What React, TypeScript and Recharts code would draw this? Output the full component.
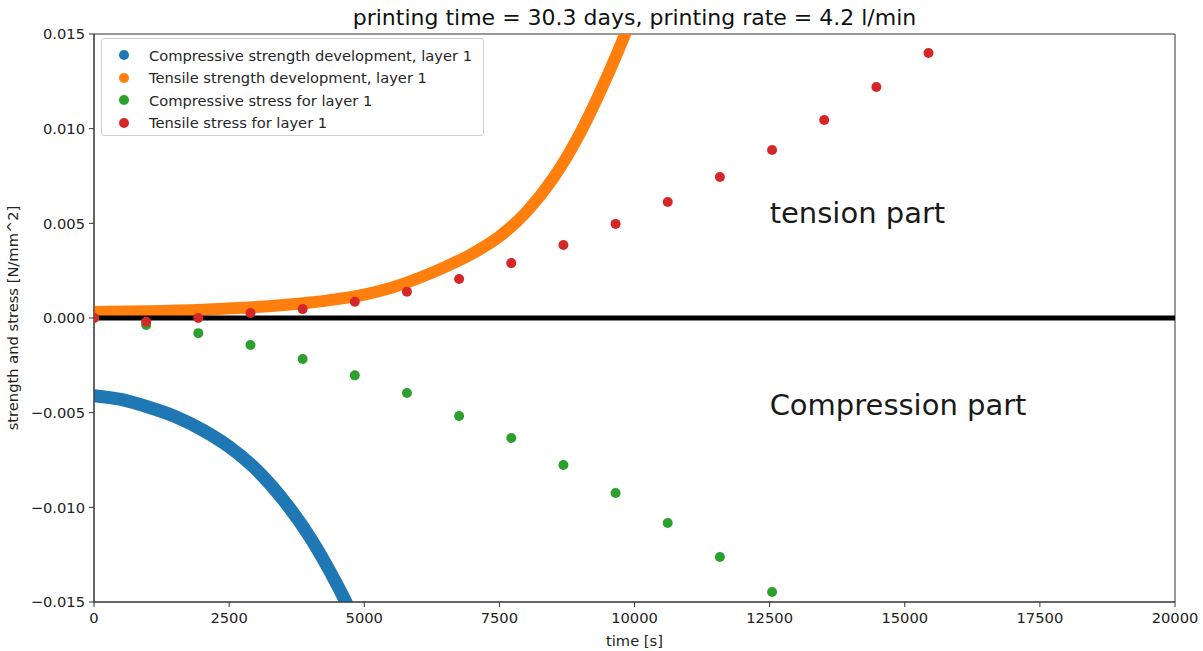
import React from "react";
import {
  ComposedChart, Line, Scatter, XAxis, YAxis, ReferenceLine, ReferenceDot, ReferenceArea,
} from "recharts";

const FONT = "'DejaVu Sans', sans-serif";

// strength development curves
const TENS_STRENGTH_T = [0, 1000, 2000, 3000, 4000, 4500, 5000, 5500, 6000, 6500, 7000, 7500, 8000, 8500, 9000, 9500, 10000];
const TENS_STRENGTH_V = [0.00032, 0.00036, 0.00044, 0.00058, 0.00082, 0.001, 0.00124, 0.0016, 0.0021, 0.0027, 0.0034, 0.0043, 0.0056, 0.0074, 0.0098, 0.0128, 0.0162];
const COMP_STRENGTH_T = [0, 500, 1000, 1500, 2000, 2500, 3000, 3500, 4000, 4500, 4800];
const COMP_STRENGTH_V = [-0.0041, -0.0043, -0.0047, -0.0052, -0.0059, -0.0068, -0.008, -0.0096, -0.0116, -0.0141, -0.0158];

// stress points per layer step
const STRESS_T = [0, 965, 1930, 2895, 3860, 4825, 5790, 6755, 7720, 8685, 9650, 10615, 11580, 12545, 13510, 14475, 15440];
const TENS_STRESS_V = [0, -0.0002, 0, 0.00026, 0.00047, 0.00086, 0.00139, 0.00206, 0.0029, 0.00386, 0.00497, 0.00613, 0.00745, 0.00887, 0.01046, 0.0122, 0.014];
const COMP_STRESS_V = [0, -0.00037, -0.0008, -0.00143, -0.00217, -0.00303, -0.00396, -0.00518, -0.00634, -0.00776, -0.00924, -0.01083, -0.01262, -0.01447];

const X_TICKS = [0, 2500, 5000, 7500, 10000, 12500, 15000, 17500, 20000];
const Y_TICKS = [-0.015, -0.01, -0.005, 0, 0.005, 0.01, 0.015];

const LEGEND_ITEMS = [
  { name: "Compressive strength development, layer 1", color: "#1f77b4" },
  { name: "Tensile strength development, layer 1", color: "#ff7f0e" },
  { name: "Compressive stress for layer 1", color: "#2ca02c" },
  { name: "Tensile stress for layer 1", color: "#d62728" },
];

const zip = (t: number[], v: number[]) => v.map((val, i) => ({ t: t[i], v: val }));

const tensStrength = zip(TENS_STRENGTH_T, TENS_STRENGTH_V);
const compStrength = zip(COMP_STRENGTH_T, COMP_STRENGTH_V);
const tensStress = zip(STRESS_T, TENS_STRESS_V);
const compStress = zip(STRESS_T, COMP_STRESS_V);

const fmtY = (v: number) => (v < 0 ? "\u2212" : "") + Math.abs(v).toFixed(3);

const dot = (color: string) => (p: any) => <circle cx={p.cx} cy={p.cy} r={5} fill={color} />;

const note = (text: string) => (p: any) => (
  <text x={p.cx} y={p.cy} fontSize={29} fontFamily={FONT} fill="#1a1a1a">{text}</text>
);

// legend box drawn over the top-left of the plot, like matplotlib's "best" location
function LegendBox() {
  return (
    <div style={{
      position: "absolute", left: 101, top: 38, width: 381, height: 91,
      border: "1px solid #d0d0d0", borderRadius: 3, background: "#fff",
      paddingTop: 5, fontFamily: FONT, fontSize: 14.7, color: "#262626",
    }}>
      {LEGEND_ITEMS.map((it) => (
        <div key={it.name} style={{ height: 22.5, display: "flex", alignItems: "center" }}>
          <span style={{ width: 10, height: 10, borderRadius: 5, background: it.color, marginLeft: 17, marginRight: 20 }} />
          <span>{it.name}</span>
        </div>
      ))}
    </div>
  );
}

export default function App() {
  return (
    <div style={{ position: "absolute", left: 0, top: 0, width: 1203, height: 651, background: "#fff", fontFamily: FONT }}>
      <div style={{
        position: "absolute", left: 94, width: 1081, top: 6, textAlign: "center",
        fontSize: 22, lineHeight: "24px", color: "#111",
      }}>
        printing time = 30.3 days, printing rate = 4.2 l/min
      </div>
      <ComposedChart width={1203} height={651} margin={{ top: 34, right: 28, left: 0, bottom: 0 }}>
        <XAxis
          type="number" dataKey="t" domain={[0, 20000]} ticks={X_TICKS} interval={0} allowDataOverflow
          height={49} tickSize={5} tickMargin={6} stroke="#333"
          tick={{ fill: "#222", fontSize: 14.7, fontFamily: FONT }}
          label={{ value: "time [s]", position: "insideBottom", offset: 5, fill: "#222", fontSize: 14.7, fontFamily: FONT }}
        />
        <YAxis
          type="number" dataKey="v" domain={[-0.015, 0.015]} ticks={Y_TICKS} interval={0} allowDataOverflow
          width={94} tickSize={5} tickMargin={4} stroke="#333" tickFormatter={fmtY}
          tick={{ fill: "#222", fontSize: 14.7, fontFamily: FONT }}
          label={(props: any) => {
            const vb = props.viewBox;
            const x = vb.x + 12;
            const y = vb.y + vb.height / 2;
            return (
              <text x={x} y={y} transform={`rotate(-90, ${x}, ${y})`} textAnchor="middle" dominantBaseline="central"
                fontSize={14.7} fontFamily={FONT} fill="#222">
                strength and stress [N/mm^2]
              </text>
            );
          }}
        />
        <ReferenceArea x1={0} x2={20000} y1={-0.015} y2={0.015} fill="none" fillOpacity={0} stroke="#333" strokeWidth={1} />
        <Line data={compStrength} dataKey="v" type="monotone" stroke="#1f77b4" strokeWidth={13} strokeLinecap="round" dot={false} isAnimationActive={false} />
        <Line data={tensStrength} dataKey="v" type="monotone" stroke="#ff7f0e" strokeWidth={12} strokeLinecap="round" dot={false} isAnimationActive={false} />
        <Scatter data={compStress} dataKey="v" fill="#2ca02c" shape={dot("#2ca02c")} isAnimationActive={false} />
        <Scatter data={tensStress} dataKey="v" fill="#d62728" shape={dot("#d62728")} isAnimationActive={false} />
        <ReferenceLine y={0} stroke="#000" strokeWidth={5} />
        <ReferenceDot x={12500} y={0.005} r={0} shape={note("tension part")} />
        <ReferenceDot x={12500} y={-0.0051} r={0} shape={note("Compression part")} />
      </ComposedChart>
      <LegendBox />
    </div>
  );
}
